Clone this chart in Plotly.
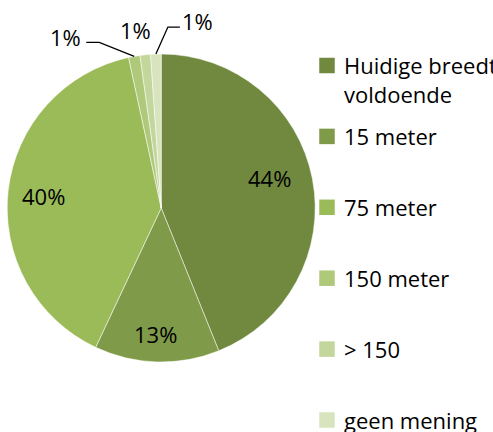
import math
import plotly.graph_objects as go

# ---- data ----
categories = ["Huidige breedte voldoende", "15 meter", "75 meter", "150 meter", "> 150", "geen mening"]
legend_labels = ["Huidige breedte<br>voldoende", "15 meter", "75 meter", "150 meter", "> 150", "geen mening"]
values = [43.9, 13.1, 39.6, 1.2, 1.1, 1.1]
colors = ["#71893F", "#7F9A48", "#9BBB59", "#AFC97A", "#C3D69B", "#D7E4BD"]

# ---- layout constants (pixels) ----
W, H = 493, 432
CX, CY, R = 161.2, 208.0, 154.0
FONT = dict(family="Open Sans, Lato, DejaVu Sans, sans-serif", size=22, color="black")
inside_rf = [0.73, 0.82, 0.77]          # radial fraction for inside labels
inside_dang = [-4.5, 0.8, -0.5]         # small angular nudge (degrees) for inside labels
small_offsets = {3: (-69, -19.5), 4: (-10, -25), 5: (42, -33.5)}  # label offset from slice edge
leader = {3: ((34, 5.5), (21, 5.5)), 5: ((-30, 6.5), (-18, 6.5))}  # elbow, end relative to label
LEG_X, LEG_Y0, LEG_DY, SQ = 327, 65.5, 70.9, 15.5


def px(x, y):
    return x / W, 1 - y / H


fig = go.Figure(go.Pie(
    labels=categories, values=values, sort=False, direction="clockwise", rotation=0,
    marker=dict(colors=colors, line=dict(color="white", width=0.5)),
    textinfo="none", hoverinfo="label+percent", showlegend=False,
    domain=dict(x=[(CX - R) / W, (CX + R) / W], y=[1 - (CY + R) / H, 1 - (CY - R) / H]),
))

annotations = []
shapes = []
total = sum(values)
cum = 0.0
for i, v in enumerate(values):
    mid = (cum + v / 2) / total * 2 * math.pi
    cum += v
    pct = f"{round(v / total * 100):.0f}%"
    if i in (0, 1, 2):
        r = inside_rf[i] * R
        a = mid + math.radians(inside_dang[i])
        lx, ly = CX + r * math.sin(a), CY - r * math.cos(a)
    else:
        ax, ay = CX + R * math.sin(mid), CY - R * math.cos(mid)
        dx, dy = small_offsets[i]
        lx, ly = ax + dx, ay + dy
        if i in leader:
            (ex, ey), (nx, ny) = leader[i]
            p0 = px(ax, ay)
            p1 = px(lx + ex, ly + ey)
            p2 = px(lx + nx, ly + ny)
            shapes.append(dict(type="path", xref="paper", yref="paper",
                               path=f"M {p0[0]} {p0[1]} L {p1[0]} {p1[1]} L {p2[0]} {p2[1]}",
                               line=dict(color="black", width=1.3)))
    x, y = px(lx, ly)
    annotations.append(dict(x=x, y=y, xref="paper", yref="paper", text=pct, showarrow=False,
                            xanchor="center", yanchor="middle", font=FONT))

# manual legend (Excel-style evenly spread entries)
for i, (lab, col) in enumerate(zip(legend_labels, colors)):
    yc = LEG_Y0 + i * LEG_DY
    x0, y0 = px(LEG_X - SQ / 2, yc + SQ / 2)
    x1, y1 = px(LEG_X + SQ / 2, yc - SQ / 2)
    shapes.append(dict(type="rect", xref="paper", yref="paper", x0=x0, y0=y0, x1=x1, y1=y1,
                       fillcolor=col, line=dict(width=0)))
    nlines = lab.count("<br>") + 1
    ty = yc + (nlines - 1) * FONT["size"] * 1.3 / 2
    tx, tyy = px(LEG_X + SQ / 2 + 7, ty)
    annotations.append(dict(x=tx, y=tyy, xref="paper", yref="paper", text=lab, showarrow=False,
                            xanchor="left", yanchor="middle", align="left", font=FONT))

fig.update_layout(width=W, height=H, margin=dict(l=0, r=0, t=0, b=0),
                  paper_bgcolor="white", plot_bgcolor="white", showlegend=False,
                  annotations=annotations, shapes=shapes)

fig.write_html("out.html", config={"displayModeBar": False},
               post_script="document.body.style.margin='0px';document.body.style.overflow='hidden';")
